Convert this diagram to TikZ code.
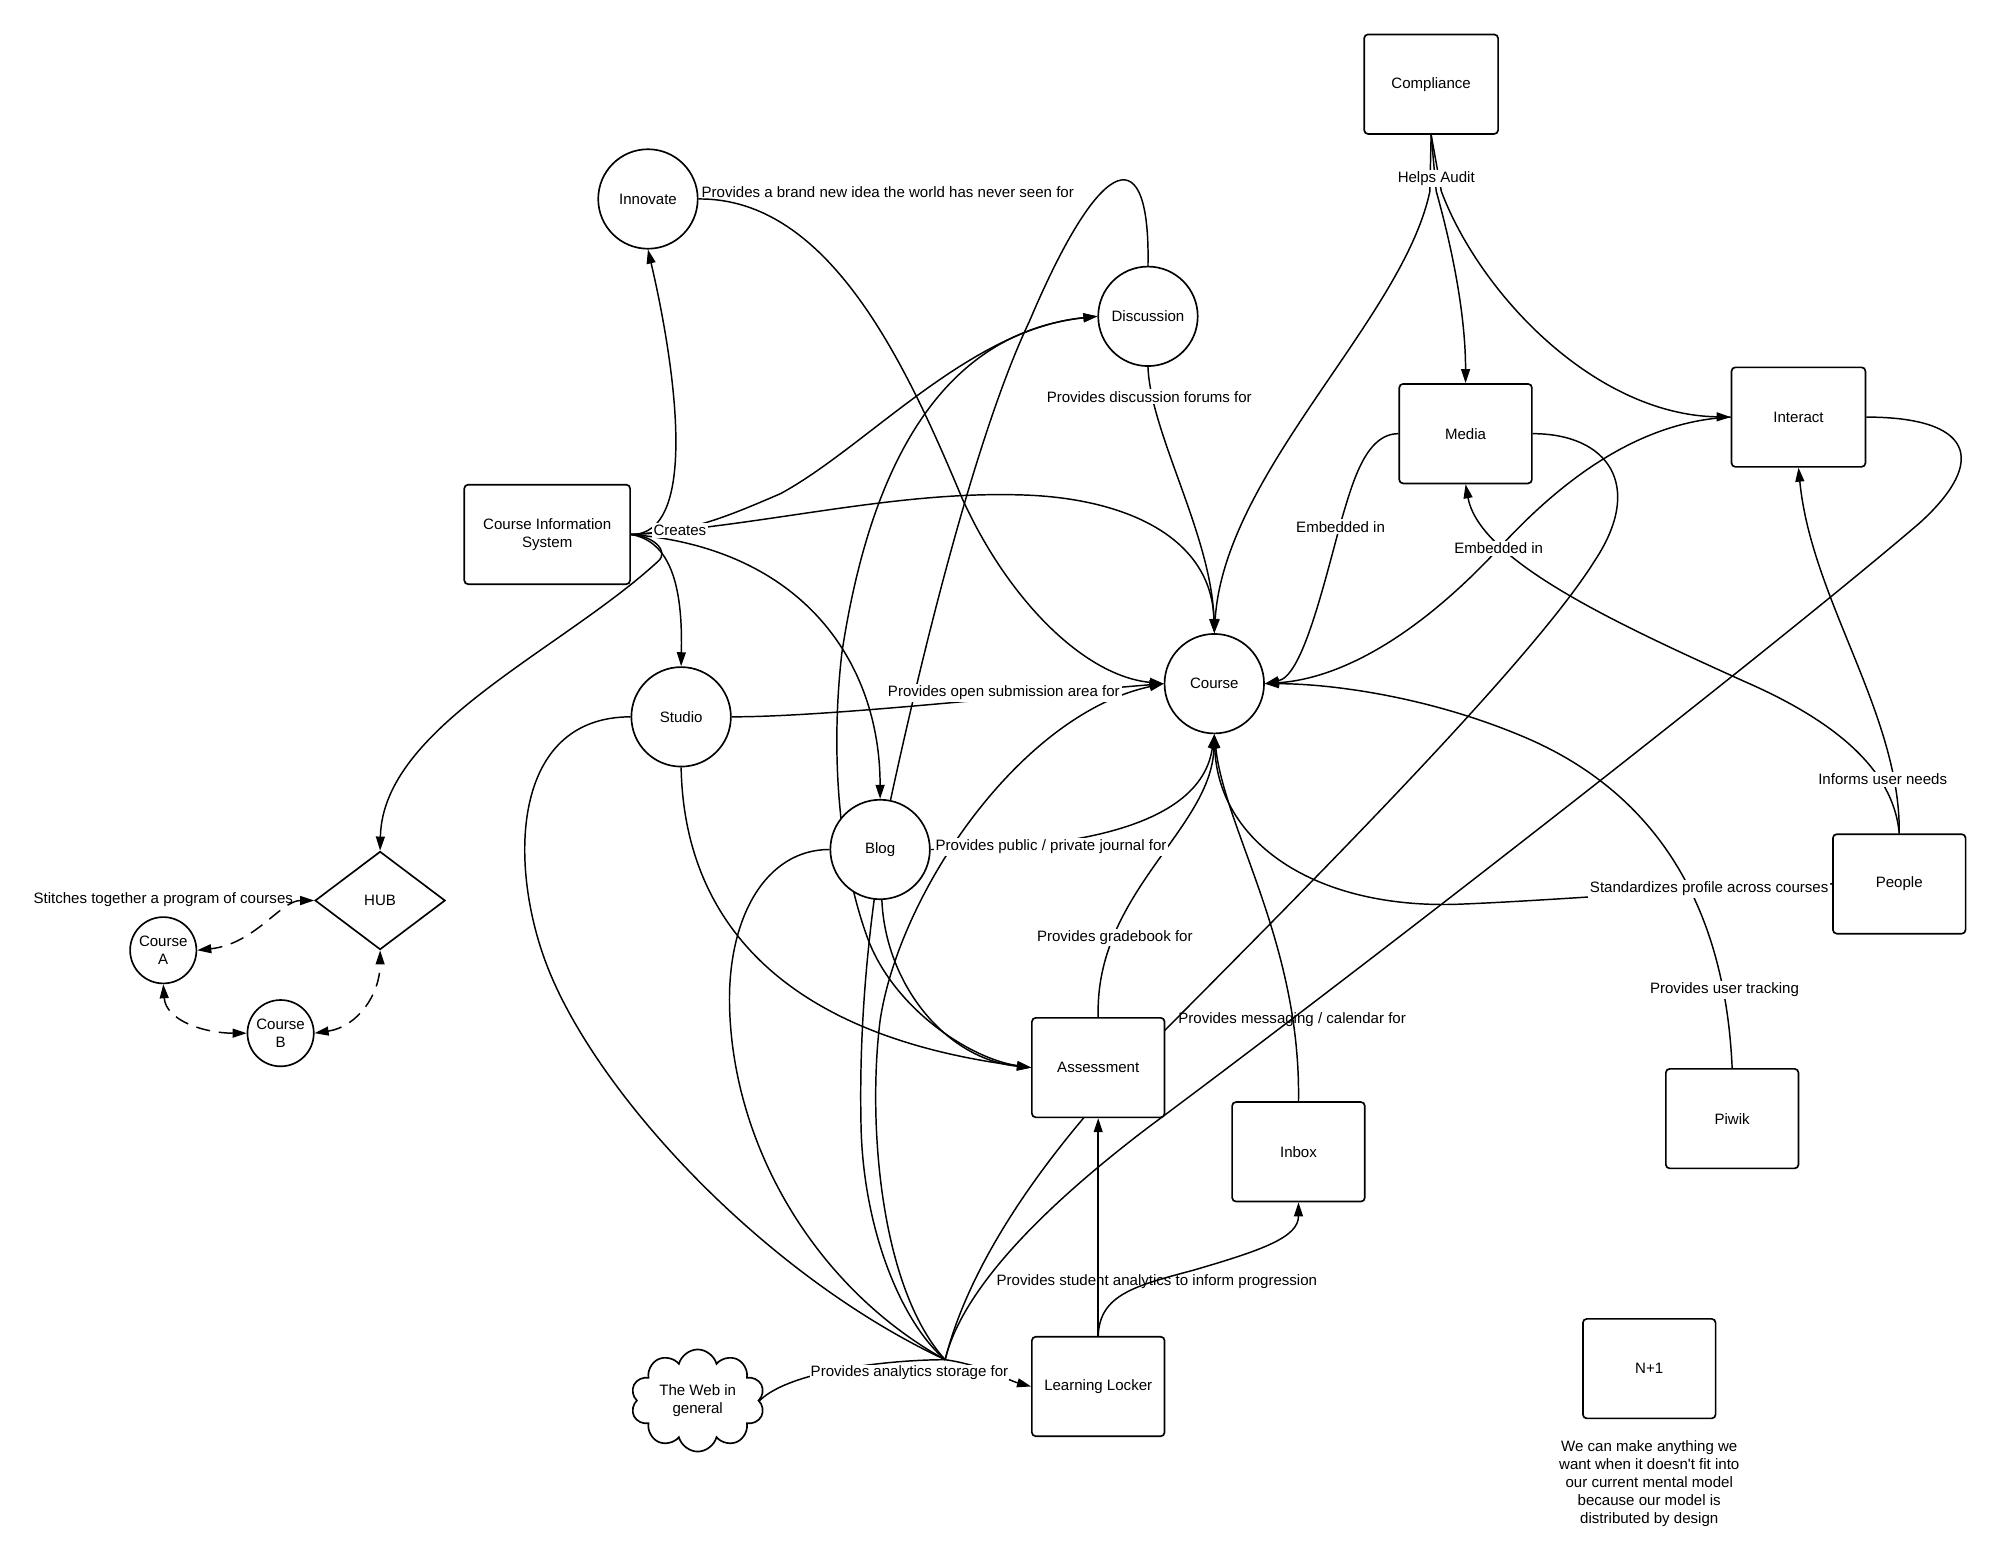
\documentclass[tikz,border=0pt]{standalone}
\usepackage{fontspec}
\setmainfont{Liberation Sans}
\usetikzlibrary{arrows.meta,shapes.geometric,shapes.symbols}
\pgfdeclarelayer{background}
\pgfsetlayers{background,main}
\begin{document}
\begin{tikzpicture}[x=1pt,y=-1pt,font=\fontsize{11.8}{14}\selectfont,
  box/.style={draw,line width=1.3pt,rounded corners=3pt,fill=white,minimum width=104pt,minimum height=78pt,inner sep=0pt,align=center},
  circ/.style={draw,circle,line width=1.3pt,fill=white,minimum size=78pt,inner sep=0pt,align=center},
  scirc/.style={circ,minimum size=52pt},
  lbl/.style={fill=white,inner sep=1.5pt},
  plainlbl/.style={inner sep=1pt},
  conn/.style={line width=1.15pt},
  arr/.style={conn,-{Triangle[length=11pt,width=7pt]}},
  darrow/.style={conn,{Triangle[length=11pt,width=7pt]}-{Triangle[length=11pt,width=7pt]}},
  dasharr/.style={darrow,dash pattern=on 11pt off 7pt}]
\useasboundingbox (0,0) rectangle (1568,1228);

% nodes
\node[box,minimum width=105pt] (comp) at (1122,66) {Compliance};
\node[box] (media) at (1149,340) {Media};
\node[box,minimum width=105pt] (inter) at (1410,327) {Interact};
\node[circ] (innov) at (508,156) {Innovate};
\node[circ] (disc) at (900,248) {Discussion};
\node[box,minimum width=130pt] (cis) at (429,419) {Course Information\\System};
\node[circ] (studio) at (534,562) {Studio};
\node[circ] (course) at (952,536) {Course};
\node[circ] (blog) at (690,666) {Blog};
\node[draw,diamond,line width=1.3pt,fill=white,minimum width=102pt,minimum height=77pt,inner sep=0pt] (hub) at (298,706) {HUB};
\node[scirc] (ca) at (128,745) {Course\\A};
\node[scirc] (cb) at (220,810) {Course\\B};
\node[box] (assess) at (861,837) {Assessment};
\node[box] (inbox) at (1018,903) {Inbox};
\node[box] (piwik) at (1358,877) {Piwik};
\node[box] (people) at (1489,693) {People};
\node[box] (np) at (1293,1073) {N+1};
\node[box] (ll) at (861,1087) {Learning Locker};
\node[cloud,draw,line width=1.3pt,fill=white,cloud puffs=10,aspect=1.35,minimum width=105pt,minimum height=78pt,inner sep=0pt,align=center] (web) at (547,1098) {The Web in\\general};
\coordinate (J) at (741,1066);

% labels
\node[plainlbl] (lInnov) at (696,151) {Provides a brand new idea the world has never seen for};
\node[lbl] (lHelps) at (1126,140) {Helps Audit};
\node[lbl] (lDisc) at (901,311) {Provides discussion forums for};
\node[lbl] (lCreates) at (533,416) {Creates};
\node[lbl] (lEmbA) at (1051,413) {Embedded in};
\node[lbl] (lEmbB) at (1175,430) {Embedded in};
\node[lbl] (lOpen) at (787,543) {Provides open submission area for};
\node[lbl] (lJournal) at (824,664) {Provides public / private journal for};
\node[lbl] (lInforms) at (1476,611) {Informs user needs};
\node[lbl] (lStand) at (1340,697) {Standardizes profile across courses};
\node[plainlbl] (lStitch) at (128,705) {Stitches together a program of courses};
\node[lbl] (lGrade) at (874,735) {Provides gradebook for};
\node[plainlbl] (lMsg) at (1013,799) {Provides messaging / calendar for};
\node[lbl] (lTrack) at (1352,776) {Provides user tracking};
\node[plainlbl] (lStudent) at (907,1005) {Provides student analytics to inform progression};
\node[lbl,inner sep=0.5pt] (lStorage) at (713,1076) {Provides analytics storage for};
\node[align=center] (note) at (1293,1163) {We can make anything we\\want when it doesn\textquotesingle t fit into\\our current mental model\\because our model is\\distributed by design};

\begin{pgfonlayer}{background}
% Innovate -> Course
\draw[arr] (innov.east) .. controls (650,155) and (710,285) .. (754,390) .. controls (790,470) and (850,530) .. (course.west);
% Course Information System
\draw[arr] (cis.east) .. controls (548,420) and (530,290) .. (innov.south);
\draw[arr] (cis.east) .. controls (540,418) and (570,405) .. (612,387) .. controls (680,350) and (760,258) .. (disc.west);
\draw[arr] (cis.east) .. controls (600,412) and (700,385) .. (800,388) .. controls (880,390) and (950,420) .. (course.north);
\draw[arr] (cis.east) .. controls (530,425) and (535,470) .. (studio.north);
\draw[arr] (cis.east) .. controls (630,430) and (690,520) .. (blog.north);
\draw[arr] (cis.east) .. controls (512,420) and (525,432) .. (516,440) .. controls (440,510) and (300,570) .. (hub.north);
% Discussion -> Course
\draw[arr] (disc.south) .. controls (902,340) and (950,420) .. (course.north);
% Learning Locker fan
\draw[conn] (J) .. controls (705,1035) and (676,960) .. (675,880) .. controls (673,780) and (686,690) .. (698,628) .. controls (730,480) and (770,330) .. (807,252) .. controls (865,115) and (902,110) .. (disc.north);
\draw[darrow] (assess.west) .. controls (760,830) and (700,790) .. (680,735) .. controls (660,680) and (650,600) .. (660,512) .. controls (680,380) and (730,262) .. (disc.west);
\draw[arr] (J) .. controls (690,1010) and (680,880) .. (690,800) .. controls (705,700) and (800,560) .. (course.west);
\draw[conn] (J) .. controls (600,1000) and (470,860) .. (430,760) .. controls (398,680) and (400,562) .. (studio.west);
\draw[conn] (J) .. controls (640,1010) and (575,900) .. (572,790) .. controls (570,720) and (600,666) .. (blog.west);
\draw[conn] (J) .. controls (760,990) and (820,900) .. (913,808) .. controls (1020,700) and (1200,520) .. (1250,440) .. controls (1290,380) and (1260,340) .. (media.east);
\draw[conn] (J) .. controls (752,1020) and (800,960) .. (900,884) .. controls (1100,735) and (1400,500) .. (1505,410) .. controls (1560,360) and (1545,327) .. (inter.east);
\draw[conn] (web.east) .. controls (620,1074) and (700,1066) .. (J);
\draw[arr] (J) .. controls (770,1070) and (790,1082) .. (ll.west);
\draw[arr] (ll.north) -- (assess.south);
\draw[arr] (ll.north) .. controls (862,1015) and (890,1008) .. (935,996) .. controls (990,980) and (1018,970) .. (inbox.south);
% Studio, Blog
\draw[arr] (studio.east) .. controls (650,562) and (800,545) .. (course.west);
\draw[arr] (studio.south) .. controls (536,710) and (600,810) .. (assess.west);
\draw[arr] (blog.-88) .. controls (694,770) and (740,830) .. (assess.west);
\draw[arr] (blog.east) .. controls (800,666) and (940,660) .. (course.south);
% into Course from below and right
\draw[arr] (assess.north) .. controls (858,700) and (950,650) .. (course.south);
\draw[arr] (inbox.north) .. controls (1020,740) and (960,650) .. (course.south);
\draw[arr] (people.west) .. controls (1320,697) and (1220,706) .. (1141,709) .. controls (1030,712) and (955,660) .. (course.south);
\draw[arr] (piwik.north) .. controls (1352,700) and (1290,620) .. (1200,580) .. controls (1120,545) and (1040,536) .. (course.east);
\draw[arr] (media.west) .. controls (1070,340) and (1060,380) .. (1051,410) .. controls (1035,470) and (1020,530) .. (course.east);
\draw[arr] (inter.west) .. controls (1290,330) and (1230,370) .. (1175,430) .. controls (1110,500) and (1050,532) .. (course.east);
% Compliance
\draw[arr] (comp.south) -- (1121,150) .. controls (1100,250) and (960,370) .. (course.north);
\draw[arr] (comp.south) -- (1126,150) .. controls (1140,200) and (1149,250) .. (media.north);
\draw[arr] (comp.south) -- (1130,150) .. controls (1160,230) and (1250,325) .. (inter.west);
% People
\draw[arr] (people.north) .. controls (1485,610) and (1450,570) .. (1367,534) .. controls (1270,490) and (1160,440) .. (media.south);
\draw[arr] (people.north) .. controls (1490,560) and (1420,470) .. (inter.south);
% HUB
\draw[dasharr] (hub.west) .. controls (220,706) and (200,740) .. (ca.east);
\draw[dasharr] (ca.south) .. controls (130,800) and (160,810) .. (cb.west);
\draw[dasharr] (cb.east) .. controls (280,805) and (298,780) .. (hub.south);
\end{pgfonlayer}
\end{tikzpicture}
\end{document}
